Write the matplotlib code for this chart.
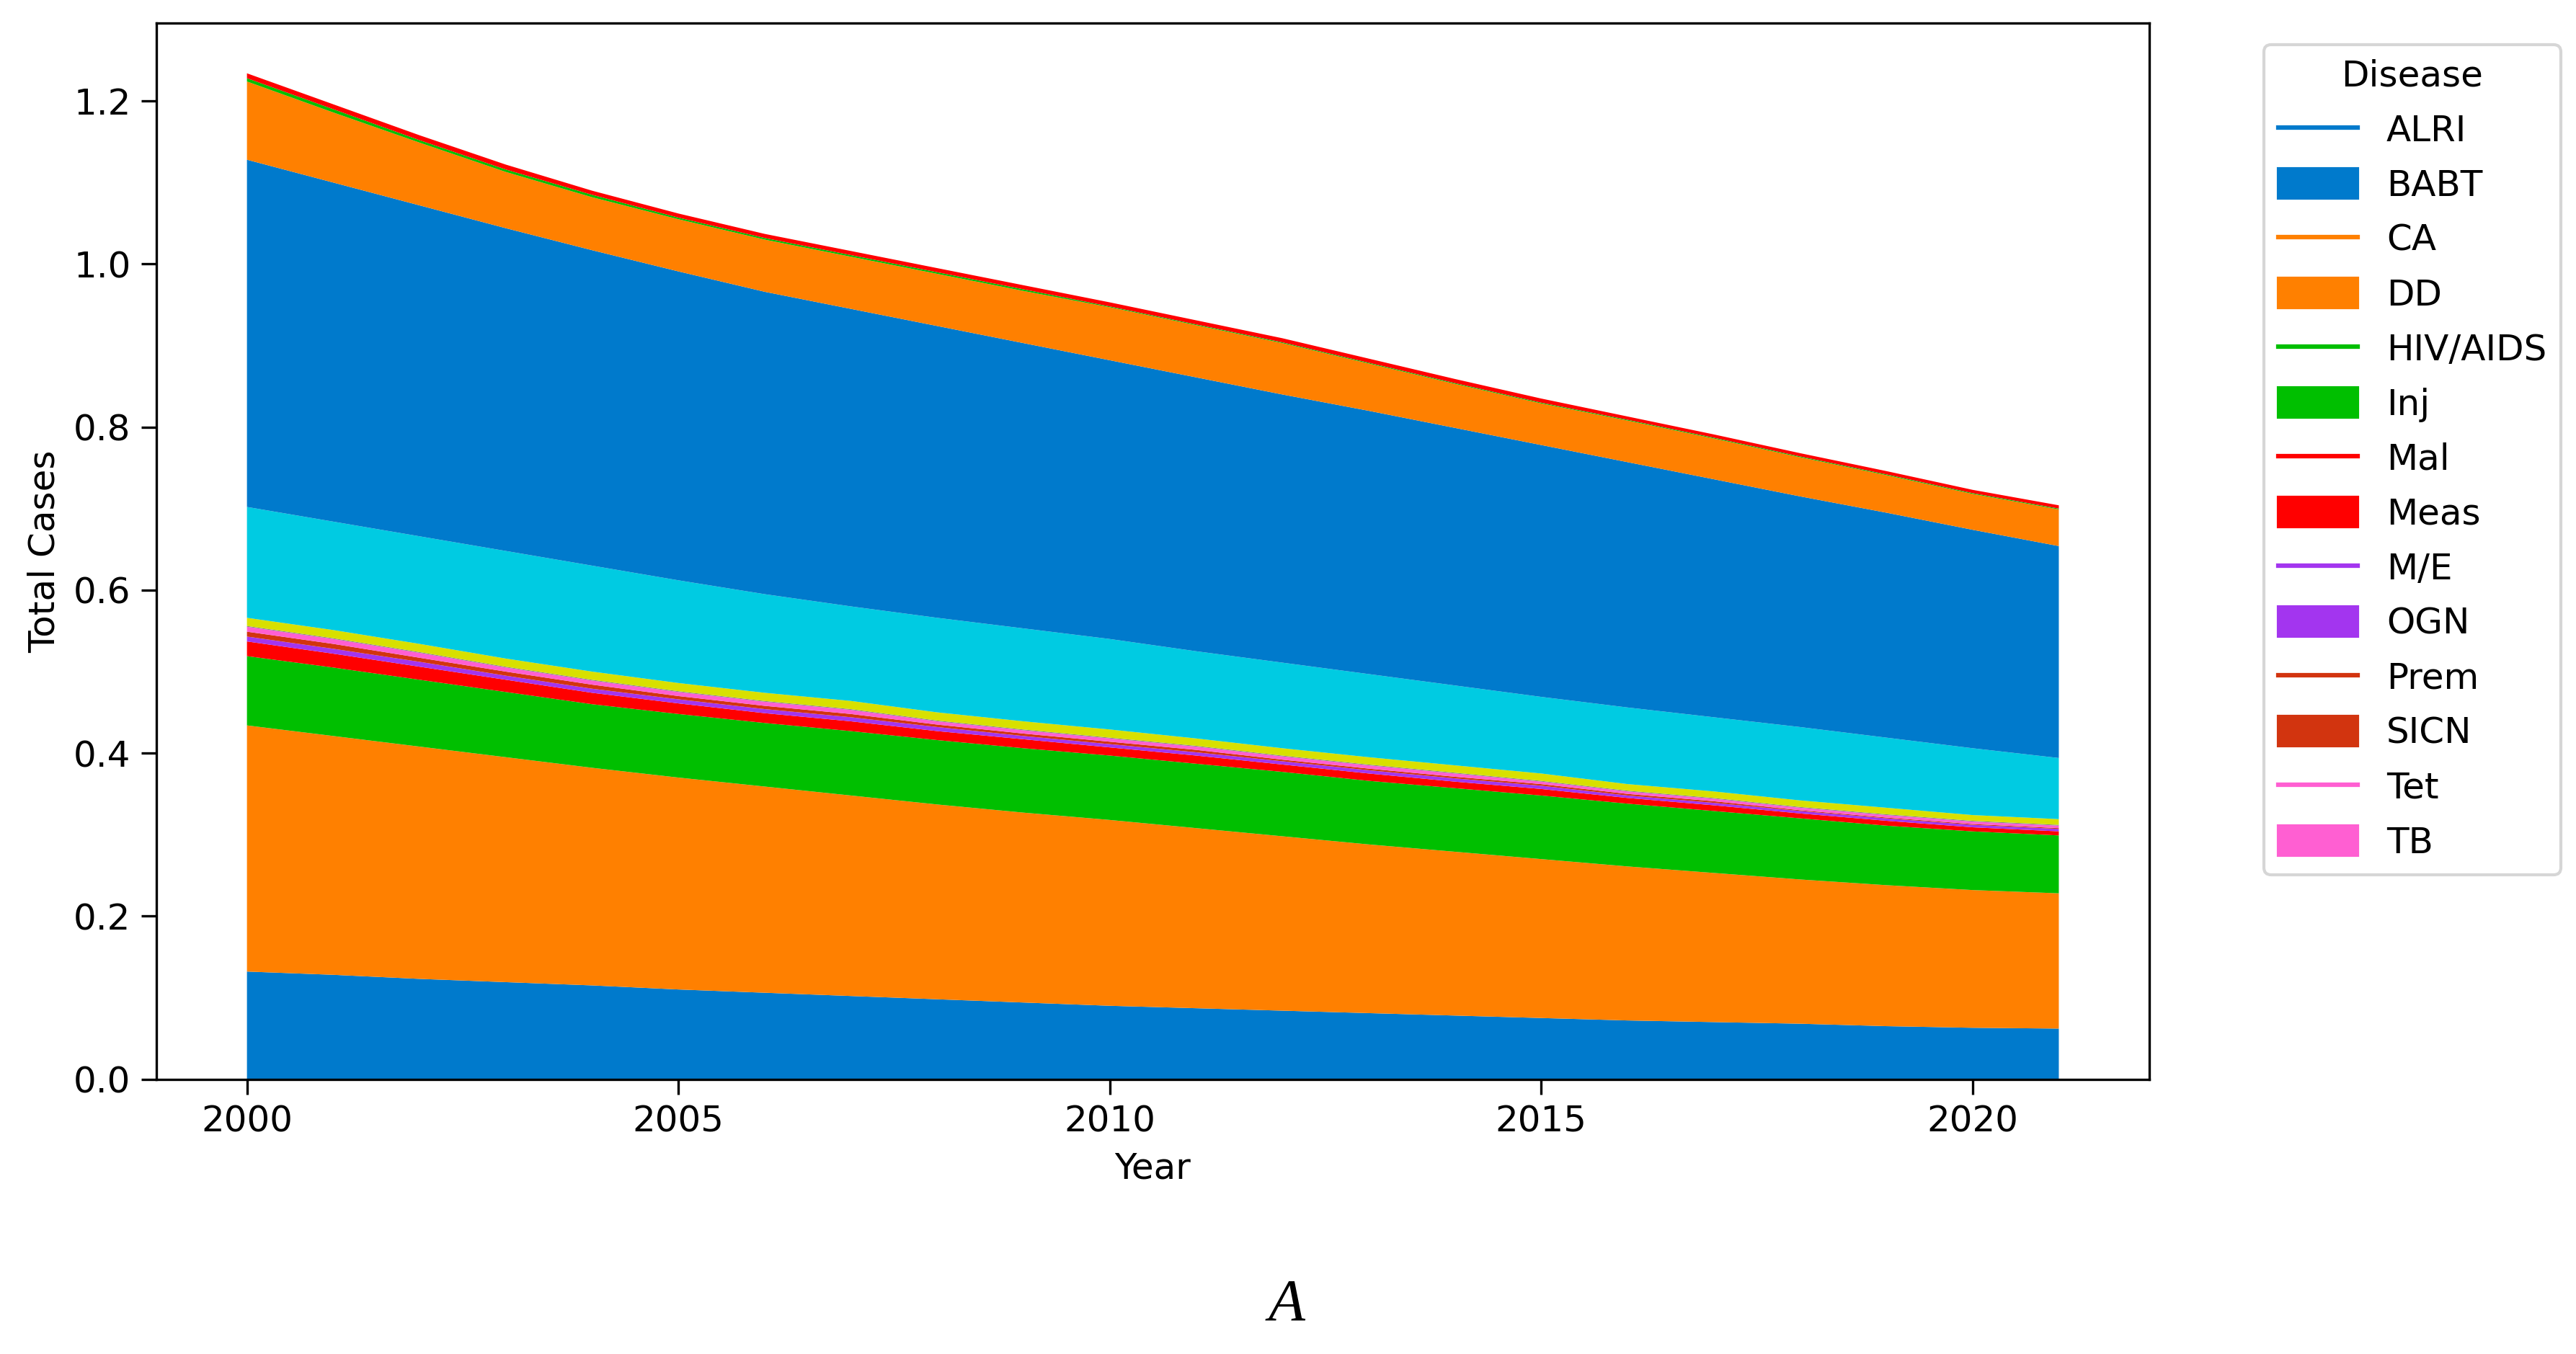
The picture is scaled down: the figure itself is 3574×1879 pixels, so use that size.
import matplotlib
matplotlib.use("Agg")
from matplotlib import pyplot as plt
from matplotlib.lines import Line2D
from matplotlib.patches import Patch

years = list(range(2000, 2022))

# stacked layers, bottom to top
layer01 = [0.132, 0.128, 0.123, 0.119, 0.115, 0.110, 0.106, 0.102, 0.098, 0.094, 0.090,
           0.087, 0.084, 0.081, 0.078, 0.075, 0.072, 0.070, 0.068, 0.065, 0.063, 0.062]
layer02 = [0.302, 0.293, 0.285, 0.276, 0.267, 0.260, 0.253, 0.246, 0.239, 0.233, 0.228,
           0.221, 0.214, 0.207, 0.201, 0.195, 0.189, 0.183, 0.177, 0.173, 0.169, 0.166]
layer03 = [0.085, 0.084, 0.082, 0.080, 0.078, 0.078, 0.078, 0.079, 0.079, 0.079, 0.079,
           0.079, 0.079, 0.078, 0.078, 0.078, 0.077, 0.076, 0.075, 0.073, 0.072, 0.071]
layer04 = [0.018, 0.017, 0.016, 0.015, 0.014, 0.013, 0.012, 0.012, 0.011, 0.011, 0.010,
           0.010, 0.009, 0.009, 0.008, 0.008, 0.007, 0.007, 0.006, 0.006, 0.005, 0.005]
layer05 = [0.006, 0.006, 0.006, 0.005, 0.005, 0.005, 0.005, 0.005, 0.005, 0.004, 0.004,
           0.004, 0.004, 0.004, 0.004, 0.004, 0.003, 0.003, 0.003, 0.003, 0.003, 0.003]
layer06 = [0.006, 0.006, 0.005, 0.005, 0.005, 0.004, 0.004, 0.004, 0.003, 0.003, 0.003,
           0.003, 0.002, 0.002, 0.002, 0.002, 0.002, 0.002, 0.001, 0.001, 0.001, 0.001]
layer07 = [0.006, 0.006, 0.006, 0.005, 0.005, 0.005, 0.005, 0.005, 0.004, 0.004, 0.004,
           0.004, 0.004, 0.004, 0.004, 0.003, 0.003, 0.003, 0.003, 0.003, 0.003, 0.003]
layer08 = [0.001, 0.001, 0.001, 0.001, 0.001, 0.001, 0.001, 0.001, 0.001, 0.001, 0.001,
           0.001, 0.001, 0.001, 0.001, 0.001, 0.001, 0.001, 0.001, 0.001, 0.001, 0.001]
layer09 = [0.010, 0.010, 0.010, 0.010, 0.010, 0.010, 0.010, 0.010, 0.010, 0.010, 0.010,
           0.009, 0.009, 0.009, 0.009, 0.009, 0.008, 0.008, 0.008, 0.008, 0.007, 0.007]
layer10 = [0.136, 0.133, 0.132, 0.132, 0.130, 0.126, 0.121, 0.116, 0.116, 0.114, 0.111,
           0.107, 0.105, 0.102, 0.098, 0.094, 0.094, 0.091, 0.090, 0.086, 0.082, 0.075]
layer11 = [0.426, 0.416, 0.406, 0.396, 0.387, 0.379, 0.371, 0.365, 0.358, 0.350, 0.342,
           0.336, 0.329, 0.323, 0.316, 0.309, 0.301, 0.292, 0.283, 0.276, 0.268, 0.260]
layer12 = [0.096, 0.086, 0.077, 0.069, 0.065, 0.064, 0.064, 0.064, 0.064, 0.064, 0.065,
           0.064, 0.063, 0.058, 0.054, 0.051, 0.051, 0.050, 0.048, 0.046, 0.044, 0.045]
layer13 = [0.004, 0.004, 0.003, 0.003, 0.003, 0.002, 0.002, 0.002, 0.002, 0.002, 0.001,
           0.001, 0.001, 0.001, 0.001, 0.001, 0.001, 0.001, 0.001, 0.001, 0.001, 0.001]
layer14 = [0.006, 0.006, 0.006, 0.006, 0.005, 0.005, 0.005, 0.005, 0.005, 0.005, 0.005,
           0.005, 0.005, 0.005, 0.005, 0.005, 0.004, 0.004, 0.004, 0.004, 0.004, 0.004]

layers = [layer01, layer02, layer03, layer04, layer05, layer06, layer07,
          layer08, layer09, layer10, layer11, layer12, layer13, layer14]

diseases = ['ALRI', 'BABT', 'CA', 'DD', 'HIV/AIDS', 'Inj', 'Mal', 'Meas',
            'M/E', 'OGN', 'Prem', 'SICN', 'Tet', 'TB']

palette = ['#007acc', '#ff8000', '#00bf00', '#ff0000', '#a335ef',
           '#d2340f', '#ff5fd2', '#8a8a8a', '#d8e000', '#00cbe2']
colors = [palette[i % 10] for i in range(len(layers))]

fig = plt.figure(figsize=(3574 / 300, 1879 / 300), dpi=300)
ax = fig.add_axes([0.0607, 0.203, 0.7737, 0.780])

ax.stackplot(years, *layers, colors=colors)

ax.set_xlabel('Year', fontsize=12)
ax.set_ylabel('Total Cases', fontsize=12)
ax.tick_params(labelsize=12, length=5)
ax.set_xticks([2000, 2005, 2010, 2015, 2020])

# legend shows line / patch pairs, as in the original figure
handles = []
for i in range(7):
    handles.append(Line2D([], [], color=palette[i], lw=1.5))
    handles.append(Patch(color=palette[i]))
ax.legend(handles, diseases, title='Disease', loc='upper left',
          bbox_to_anchor=(1.052, 0.99), fontsize=12, title_fontsize=12,
          handlelength=2.2, handleheight=0.9, labelspacing=0.56,
          borderaxespad=0.3)

fig.text(0.4994, 0.036, 'A', fontsize=20, style='italic',
         family='Liberation Serif', ha='center', va='center')

fig.savefig('out.png', dpi=300)
